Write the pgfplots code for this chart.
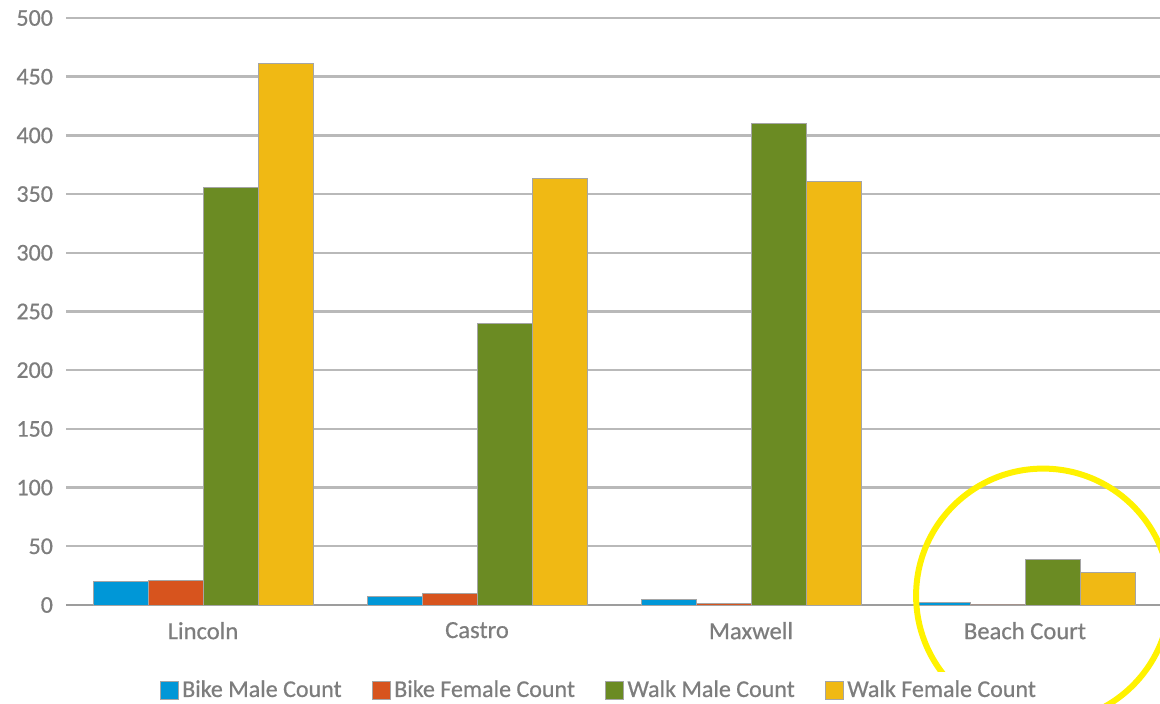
\documentclass[border=0pt]{standalone}
\usepackage{fontspec}
\setmainfont{Carlito}[FakeBold=0.6]
\newfontfamily\lab{Carlito}[FakeBold=0.6]
\usepackage{pgfplots}
\pgfplotsset{compat=1.18}

\definecolor{bikem}{RGB}{0,151,215}
\definecolor{bikef}{RGB}{215,84,30}
\definecolor{walkm}{RGB}{107,139,35}
\definecolor{walkf}{RGB}{240,185,20}
\definecolor{gridc}{RGB}{185,185,185}
\definecolor{txt}{RGB}{125,125,125}
\definecolor{edge}{RGB}{165,165,165}

\begin{document}
\begin{tikzpicture}
\path[use as bounding box, clip] (0,0) rectangle (580pt,352pt);
\begin{axis}[
    at={(33pt,49.5pt)}, anchor=south west,
    scale only axis,
    width=548pt, height=293.5pt,
    ybar, bar width=27.5pt,
    xmin=-0.5, xmax=3.5,
    ymin=0, ymax=500,
    ytick={0,50,...,500},
    xtick={0,1,2,3},
    xticklabels={Lincoln,Castro,Maxwell,Beach Court},
    axis line style={draw=none},
    major tick length=0pt,
    ymajorgrids,
    major grid style={gridc, line width=1.2pt},
    /pgf/number format/assume math mode=true,
    yticklabel style={font=\lab\fontsize{12}{14}\selectfont, text=txt, xshift=-3pt},
    xticklabel style={font=\lab\fontsize{12.3}{14}\selectfont, text=txt, yshift=-5pt},
    every axis plot/.append style={draw=edge, line width=0.4pt},
    legend columns=4,
    legend style={at={(0.487,-0.145)}, anchor=center, draw=none,
        font=\lab\fontsize{12}{14}\selectfont, text=txt,
        /tikz/every even column/.append style={column sep=13pt}},
    legend image code/.code={\draw[#1, draw=edge, line width=0.3pt] (0pt,-4.5pt) rectangle (9pt,4.5pt);},
    clip=false,
]
\draw[gridc!85!black, line width=1.3pt] (axis cs:-0.5,0) -- (axis cs:3.5,0);
\addplot[fill=bikem, bar shift=-41.25pt] coordinates {(0,20) (1,7) (2,5) (3,2)};
\addplot[fill=bikef, bar shift=-13.75pt] coordinates {(0,21) (1,10) (2,1) (3,0)};
\addplot[fill=walkm, bar shift=13.75pt] coordinates {(0,356) (1,240) (2,410) (3,39)};
\addplot[fill=walkf, bar shift=41.25pt] coordinates {(0,461) (1,363) (2,361) (3,28)};
\legend{Bike Male Count, Bike Female Count, Walk Male Count, Walk Female Count}
\draw[yellow, line width=3pt] (axis cs:3.066,8) circle[radius=63.5pt];
\end{axis}
\end{tikzpicture}
\end{document}
